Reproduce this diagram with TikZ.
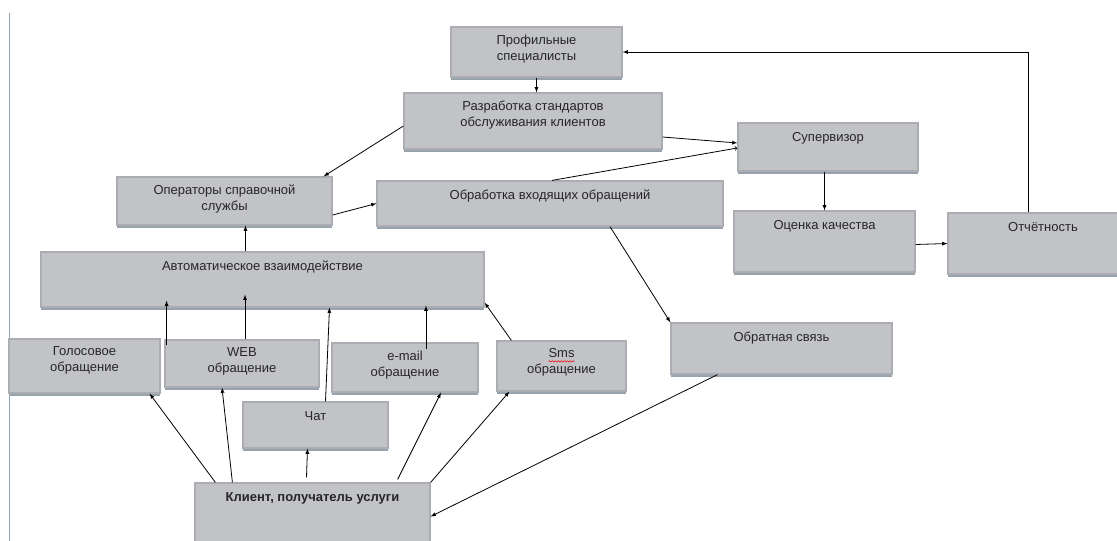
\documentclass[tikz,border=0pt]{standalone}
\usepackage{fontspec}
\setmainfont{Liberation Sans}
\usepackage{tikz}
\usetikzlibrary{positioning,arrows,calc,decorations.pathmorphing}

\definecolor{boxgray}{HTML}{C2C3C7}
\definecolor{boxedge}{HTML}{ABADB3}
\definecolor{boxshade}{HTML}{97A3AC}
\definecolor{pageline}{HTML}{8FA8C0}
\definecolor{txtgray}{HTML}{262626}

\begin{document}
\begin{tikzpicture}[
	x=1pt, y=-1pt,
	ar/.style={->,>=latex, line width=0.8pt},
	arto/.style={->,>=to, line width=0.8pt},
	mybox/.style={
	  fill=boxgray,
	  draw=boxedge,
	  line width=1.2pt,
	  inner sep=0pt,
	  preaction={fill=boxshade, transform canvas={yshift=-3pt}}
	  },
	txt/.style={
	  anchor=north,
	  yshift=-8pt,
	  inner sep=0pt,
	  align=center,
	  text=txtgray,
	  font=\fontsize{13}{16}\selectfont,
	  execute at begin node=\strut
	  },
	top/.style={label={[txt]north:#1}}
	]
		\clip (0,0) rectangle (1117,541);
		\useasboundingbox (0,0) rectangle (1117,541);
		\fill[white] (0,0) rectangle (1117,541);
		\draw[pageline, line width=1pt] (9.5,13) -- (9.5,541);

		% boxes
		\node[mybox, minimum width=171, minimum height=50, top={Профильные\\специалисты}] (prof) at (536.5,52) {};
		\node[mybox, minimum width=258, minimum height=56, top={Разработка стандартов\\обслуживания клиентов}] (razr) at (533,121) {};
		\node[mybox, minimum width=180, minimum height=48, top={Супервизор}] (sup) at (828,147) {};
		\node[mybox, minimum width=215, minimum height=48, top={Операторы справочной\\службы}] (oper) at (224.5,201) {};
		\node[mybox, minimum width=346, minimum height=45, top={Обработка входящих обращений}] (obr) at (550,203.5) {};
		\node[mybox, minimum width=181, minimum height=61, top={Оценка качества}] (ocen) at (824.5,241.5) {};
		\node[mybox, minimum width=190, minimum height=61, top={Отчётность}] (otch) at (1043,243.5) {};
		\node[mybox, minimum width=443, minimum height=55, top={Автоматическое взаимодействие}] (avto) at (262.5,279.5) {};
		\node[mybox, minimum width=151, minimum height=54, top={Голосовое\\обращение}] (golos) at (84.5,366) {};
		\node[mybox, minimum width=154, minimum height=47, top={WEB\\обращение}] (web) at (242,363.5) {};
		\node[mybox, minimum width=146, minimum height=49, top={e-mail\\обращение}] (email) at (405,367.5) {};
		\node[mybox, minimum width=129, minimum height=50, top={Sms\\обращение}] (sms) at (561.5,366) {};
		\node[mybox, minimum width=145, minimum height=46, top={Чат}] (chat) at (315.5,425) {};
		\node[mybox, minimum width=235, minimum height=67, top={\textbf{Клиент, получатель услуги}}] (klient) at (312.5,516.5) {};
		\node[mybox, minimum width=221, minimum height=51, top={Обратная связь}] (svyaz) at (781.5,348.5) {};

		% spelling mark under Sms
		\draw[red, line width=0.5pt, decorate, decoration={snake, amplitude=0.7pt, segment length=3pt}]
			($(sms.north)+(-13,21)$) -- ($(sms.north)+(13,21)$);

		% arrows
		\draw[ar]
			(prof.south) -- (prof.south |- razr.north);
		\draw[ar]
			([yshift=-5pt]razr.west) -- ([xshift=-9pt]oper.north east);
		\draw[ar]
			([yshift=-16pt]razr.east) -- ([yshift=4pt]sup.west);
		\draw[arto]
			([xshift=2pt]obr.north) -- ([yshift=-1pt]sup.west);
		\draw[ar]
			([yshift=-14pt]oper.east) -- ([yshift=0pt]obr.west);
		\draw[ar]
			([xshift=-17pt]avto.north) -- ([xshift=-17pt]avto.north |- oper.south);
		\draw[ar]
			(sup.south -| ocen.north) -- (ocen.north);
		\draw[ar]
			([yshift=-3pt]ocen.east) -- (otch.west);
		\draw[ar]
			([xshift=-15pt]otch.north) |- (prof.east);
		\draw[ar]
			([xshift=60pt]obr.south) -- (svyaz.north west);
		\draw[ar]
			([xshift=-64pt]svyaz.south) -- (klient.east);

		\draw[ar]
			([xshift=21pt]klient.north west) -- ([xshift=-11pt]golos.south east);
		\draw[ar]
			([xshift=38pt]klient.north west) -- ([xshift=-20pt]web.south);
		\draw[ar]
			([xshift=-6pt,yshift=5pt]klient.north) -- ([xshift=-8pt]chat.south);
		\draw[ar]
			([xshift=-33pt,yshift=3pt]klient.north east) -- ([xshift=36pt]email.south);
		\draw[ar]
			(klient.north east) -- ([xshift=13pt]sms.south west);

		\draw[ar]
			([xshift=6pt,yshift=-7pt]golos.north east) -- ([xshift=6pt,yshift=7pt]golos.north east |- avto.south);
		\draw[ar]
			([xshift=3pt]web.north) -- ([xshift=3pt,yshift=13pt]web.north |- avto.south);
		\draw[ar]
			([xshift=10pt]chat.north) -- ([xshift=14pt]chat.north |- avto.south);
		\draw[ar]
			([xshift=21pt,yshift=-7pt]email.north) -- ([xshift=21pt,yshift=2pt]email.north |- avto.south);
		\draw[ar]
			([xshift=15pt]sms.north west) -- ([yshift=5pt]avto.south east);
	\end{tikzpicture}
\end{document}
